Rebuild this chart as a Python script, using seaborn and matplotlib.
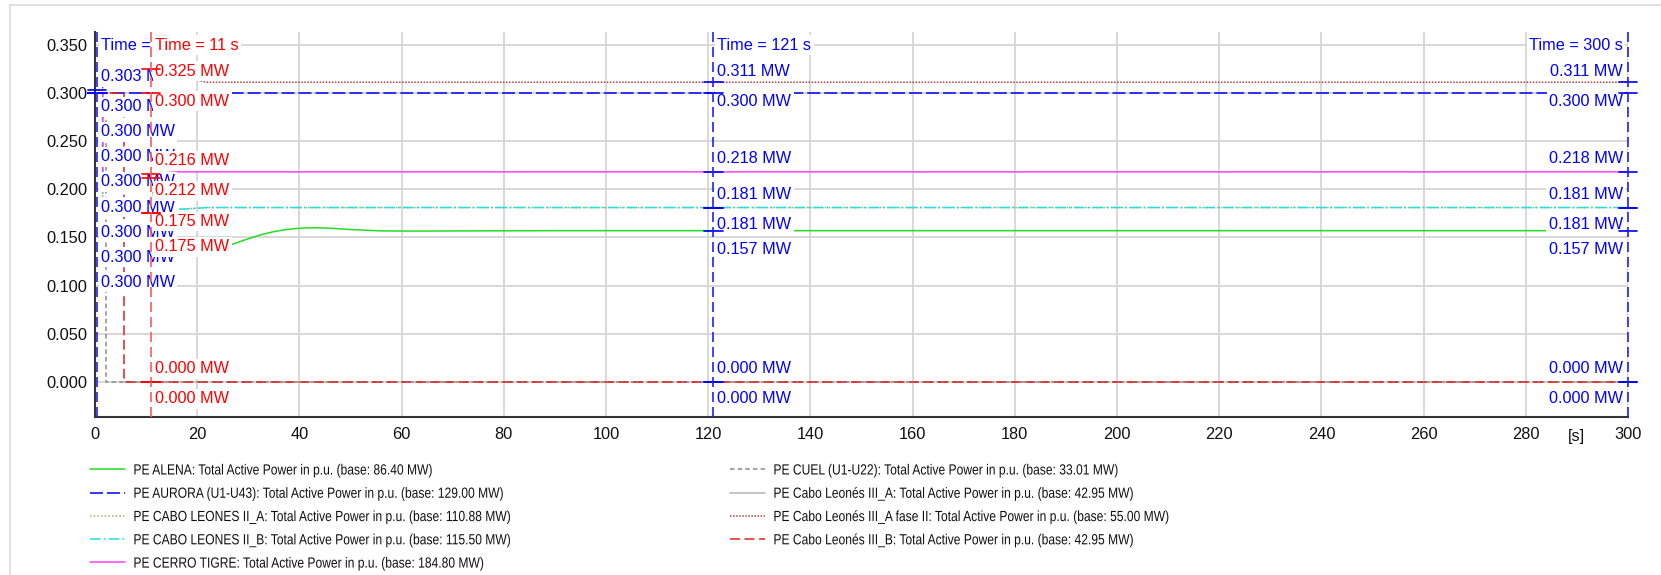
import numpy as np
import pandas as pd
import matplotlib
matplotlib.use("Agg")
import matplotlib.pyplot as plt
from matplotlib.lines import Line2D
from matplotlib.ticker import MultipleLocator, FormatStrFormatter
from matplotlib.transforms import Affine2D
from matplotlib import patheffects
import seaborn as sns

# ---------------- data (active power in p.u.) ----------------
t_alena = [0, 1.5, 1.5, 11, 12.5, 14, 20, 24, 27, 29, 31, 33, 35, 37, 39,
           41, 43, 45, 47, 50, 53, 56, 60, 65, 75, 90, 300]
p_alena = [0.300, 0.300, 0.215, 0.212, 0.150, 0.138, 0.136, 0.139, 0.143,
           0.1468, 0.1503, 0.1535, 0.1560, 0.1578, 0.1591, 0.1598, 0.1600,
           0.1598, 0.1592, 0.1582, 0.1574, 0.1568, 0.1566, 0.1566, 0.1568,
           0.157, 0.157]

t_aurora = [0, 300]
p_aurora = [0.300, 0.300]

t_cl2a = [0, 1.5, 1.5, 11, 16, 22, 300]
p_cl2a = [0.300, 0.300, 0.175, 0.175, 0.179, 0.181, 0.181]

t_cl2b = [0, 1.5, 1.5, 11, 16, 22, 300]
p_cl2b = [0.300, 0.300, 0.175, 0.175, 0.179, 0.181, 0.181]

t_tigre = [0, 1.5, 1.5, 11, 16, 300]
p_tigre = [0.300, 0.300, 0.216, 0.216, 0.218, 0.218]

t_cuel = [0, 2.1, 2.1, 300]
p_cuel = [0.300, 0.300, 0.0, 0.0]

t_cl3a = [0, 1.5]
p_cl3a = [0.300, 0.300]

t_cl3a2 = [0, 1.5, 1.5, 11, 16, 22, 300]
p_cl3a2 = [0.303, 0.303, 0.325, 0.325, 0.317, 0.311, 0.311]

t_cl3b = [0, 5.7, 5.7, 300]
p_cl3b = [0.300, 0.300, 0.0, 0.0]

names = ["PE ALENA", "PE AURORA (U1-U43)", "PE CABO LEONES II_A",
         "PE CABO LEONES II_B", "PE CERRO TIGRE", "PE CUEL (U1-U22)",
         "PE Cabo Leonés III_A", "PE Cabo Leonés III_A fase II",
         "PE Cabo Leonés III_B"]
bases_mw = [86.40, 129.00, 110.88, 115.50, 184.80, 33.01, 42.95, 55.00, 42.95]

cursor_times = [0.4, 11, 121, 300]

# ---------------- styling ----------------
styles = [
    dict(color="#22dd22", ls="-", lw=1.1),
    dict(color="#0000ff", ls=(0, (8.5, 2.6)), lw=1.1),
    dict(color="#b2a860", ls=(0, (1, 1.4)), lw=1.1),
    dict(color="#22e0e0", ls=(0, (7, 2, 1.2, 2)), lw=1.1),
    dict(color="#ff40ff", ls="-", lw=1.1),
    dict(color="#8c8c8c", ls=(0, (3, 2)), lw=1.1),
    dict(color="#b4b4b4", ls="-", lw=1.1),
    dict(color="#b04040", ls=(0, (1, 1)), lw=1.1),
    dict(color="#e02020", ls=(0, (6.5, 3)), lw=1.1),
]
cursor_colors = ["#0000ff", "#ff0000", "#0000ff", "#0000ff"]
cursor_line_colors = ["#2020ff", "#ff5a5a", "#2020ff", "#2020ff"]

series_t = [t_alena, t_aurora, t_cl2a, t_cl2b, t_tigre, t_cuel, t_cl3a, t_cl3a2, t_cl3b]
series_p = [p_alena, p_aurora, p_cl2a, p_cl2b, p_tigre, p_cuel, p_cl3a, p_cl3a2, p_cl3b]

frames = []
for i, (tt, pp) in enumerate(zip(series_t, series_p)):
    frames.append(pd.DataFrame({"t": tt, "p": pp, "idx": i}))
df = pd.concat(frames, ignore_index=True)

sns.set_theme(style="white")
plt.rcParams["font.family"] = ["Liberation Sans", "DejaVu Sans"]


class SqueezeX(patheffects.AbstractPathEffect):
    """Draw glyphs horizontally condensed around their own origin."""

    def __init__(self, sx):
        super().__init__()
        self.sx = sx

    def draw_path(self, renderer, gc, tpath, affine, rgbFace=None):
        renderer.draw_path(gc, tpath, Affine2D().scale(self.sx, 1.0) + affine, rgbFace)


W, H = 1661, 575
fig = plt.figure(figsize=(W / 100, H / 100), dpi=100)
ax = fig.add_axes([95 / W, 1 - 417 / H, (1628 - 95) / W, (417 - 32) / H])

handles = []
for i in range(len(names)):
    sub = df[df["idx"] == i]
    st = styles[i]
    sns.lineplot(data=sub, x="t", y="p", ax=ax, sort=False, estimator=None,
                 color=st["color"], linestyle=st["ls"], linewidth=st["lw"],
                 zorder=2, legend=False)
    handles.append(Line2D([], [], color=st["color"], linestyle=st["ls"], linewidth=st["lw"],
                          label=f"{names[i]}: Total Active Power in p.u. (base: {bases_mw[i]:.2f} MW)"))

ax.set_xlim(0, 300)
ax.set_ylim(-0.0363, 0.3631)
ax.set_xlabel("")
ax.set_ylabel("")

ax.xaxis.set_major_locator(MultipleLocator(20))
ax.xaxis.set_minor_locator(MultipleLocator(10))
ax.yaxis.set_major_locator(MultipleLocator(0.05))
ax.yaxis.set_minor_locator(MultipleLocator(0.025))
ax.yaxis.set_major_formatter(FormatStrFormatter("%.3f"))
ax.grid(True, which="major", color="#d6d6d6", linewidth=1.3)
ax.set_axisbelow(True)
ax.tick_params(which="major", length=0, labelsize=11.8, colors="#111111")
ax.tick_params(axis="y", which="major", pad=5.5)
ax.tick_params(axis="x", which="major", pad=7.5)
ax.tick_params(which="minor", direction="in", length=5, color="#b8b8b8", width=1)

for s in ["top", "right"]:
    ax.spines[s].set_visible(False)
for s in ["left", "bottom"]:
    ax.spines[s].set_color("#333333")
    ax.spines[s].set_linewidth(1.5)

xt = [int(v) for v in np.arange(0, 301, 20)]
ax.set_xticks(xt)
ax.set_xticklabels([str(v) for v in xt])
ax.text(290, -(436 - 417) / 385, "[s]", transform=ax.get_xaxis_transform(),
        ha="center", va="center", fontsize=11.8, color="#111111")


def values_at(t):
    out = []
    for tt, pp in zip(series_t, series_p):
        if t < tt[0] or t > tt[-1]:
            continue
        out.append(float(np.interp(t, np.asarray(tt, float), np.asarray(pp, float))))
    return out


def label_positions(values, top_cap):
    order = sorted(range(len(values)), key=lambda k: -values[k])
    pos = {}
    prev, prev_above = None, True
    for k in order:
        v = values[k]
        above = v + 0.0135
        if prev is None:
            y, st_above = min(above, top_cap), True
        elif prev - above >= 0.026:
            y, st_above = above, True
        else:
            gap = 0.031 if prev_above else 0.026
            y, st_above = min(prev - gap, v - 0.0085), False
        pos[k] = y
        prev, prev_above = y, st_above
    return pos


time_label_y = 0.3495
box = dict(boxstyle="square,pad=0.15", fc="white", ec="none")
dx_tick = 1.8
lab_fs = 11.7

for ci, tc in enumerate(cursor_times):
    col = cursor_colors[ci]
    zlab = 5 if ci == 1 else 4 + ci * 0.1
    ax.axvline(tc, color=cursor_line_colors[ci], linestyle=(0, (6, 3)), linewidth=1.2,
               zorder=6, clip_on=False)
    right_side = tc > 250
    ha = "right" if right_side else "left"
    off = -5 if right_side else 4
    ax.annotate(f"Time = {tc:g} s", xy=(tc, time_label_y), xytext=(off, 0),
                textcoords="offset pixels", ha=ha, va="center", fontsize=lab_fs,
                color=col, bbox=box, zorder=zlab)
    vals = values_at(tc)
    pos = label_positions(vals, time_label_y - 0.027)
    for k, v in enumerate(vals):
        ax.annotate(f"{v:.3f} MW", xy=(tc, pos[k]), xytext=(off, 0), textcoords="offset pixels",
                    ha=ha, va="center", fontsize=lab_fs, color=col, bbox=box, zorder=zlab)
        ax.plot([tc - dx_tick, tc + dx_tick], [v, v], color=col, linewidth=1.2,
                zorder=zlab + 0.05, clip_on=False)

# legend in two blocks, condensed sans text
leg_kw = dict(frameon=False, loc="upper left", borderpad=0, borderaxespad=0,
              handlelength=2.4, handletextpad=0.55, labelspacing=0.63,
              prop={"family": "Liberation Sans", "size": 10.6})
leg1 = fig.legend(handles=handles[:5], bbox_to_anchor=(90 / W, 1 - 463.5 / H), **leg_kw)
leg2 = fig.legend(handles=handles[5:], bbox_to_anchor=(730 / W, 1 - 463.5 / H), **leg_kw)
for lg in (leg1, leg2):
    for txt in lg.get_texts():
        txt.set_color("#111111")
        txt.set_path_effects([SqueezeX(0.82)])

# thin outer frame
fig.add_artist(Line2D([10 / W, 10 / W], [0, 1 - 5 / H], transform=fig.transFigure,
                      color="#dcdcdc", linewidth=1.2))
fig.add_artist(Line2D([10 / W, 1], [1 - 5 / H, 1 - 5 / H], transform=fig.transFigure,
                      color="#dcdcdc", linewidth=1.2))

fig.savefig("out.png", dpi=100)
